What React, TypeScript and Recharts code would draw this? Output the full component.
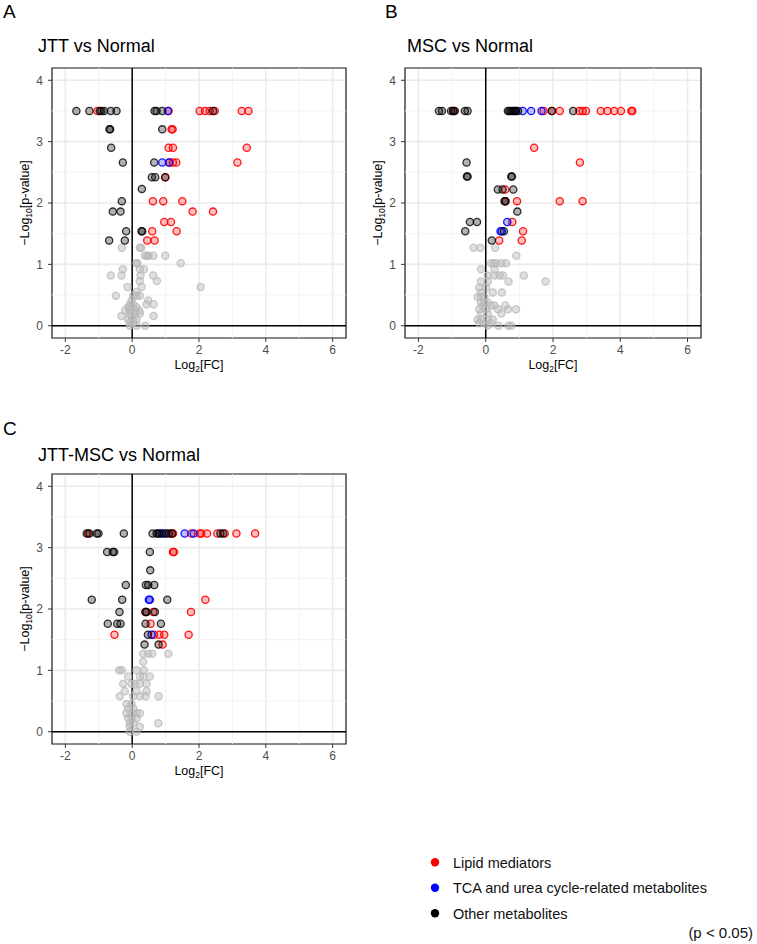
import React from "react";
import {
  CartesianGrid,
  ReferenceArea,
  ReferenceLine,
  Scatter,
  ScatterChart,
  XAxis,
  YAxis,
} from "recharts";

type Pt = { x: number; y: number };
const P = (x: number, y: number): Pt => ({ x, y });

// axis setup
const X_DOMAIN = [-2.4, 6.4];
const Y_DOMAIN = [-0.2, 4.2];
const X_TICKS = [-2, 0, 2, 4, 6];
const Y_TICKS = [0, 1, 2, 3, 4];
const X_MINOR = [-1, 1, 3, 5];
const Y_MINOR = [0.5, 1.5, 2.5, 3.5];

// A: JTT vs Normal
const jttLipid = [
  P(-1.04, 3.5), P(1.09, 3.5), P(2.02, 3.5), P(2.18, 3.5), P(2.32, 3.5), P(2.47, 3.5), P(3.28, 3.5), P(3.48, 3.5),
  P(1.18, 3.2), P(1.21, 3.2),
  P(1.09, 2.9), P(1.22, 2.9), P(3.43, 2.9),
  P(1.12, 2.66), P(1.22, 2.66), P(1.32, 2.66), P(3.15, 2.66),
  P(0.99, 2.42),
  P(0.62, 2.03), P(0.93, 2.03), P(1.5, 2.03),
  P(1.81, 1.86), P(2.42, 1.86),
  P(0.96, 1.69), P(1.16, 1.69),
  P(0.6, 1.54), P(1.33, 1.54),
  P(0.45, 1.39), P(0.67, 1.39),
];
const jttTca = [P(1.07, 3.5), P(0.9, 2.66), P(1.1, 2.66)];
const jttOther = [
  P(-1.67, 3.5), P(-1.28, 3.5), P(-0.97, 3.5), P(-0.92, 3.5), P(-0.84, 3.5), P(-0.64, 3.5), P(-0.47, 3.5),
  P(0.67, 3.5), P(0.73, 3.5), P(0.9, 3.5), P(2.42, 3.5),
  P(-0.68, 3.2), P(-0.66, 3.2), P(0.9, 3.2),
  P(-0.63, 2.9),
  P(-0.28, 2.66), P(0.66, 2.66),
  P(0.59, 2.42), P(0.69, 2.42), P(0.99, 2.42),
  P(0.29, 2.23),
  P(-0.31, 2.03),
  P(-0.58, 1.86), P(-0.35, 1.86),
  P(-0.18, 1.54), P(0.28, 1.54), P(0.3, 1.54),
  P(-0.69, 1.39), P(-0.22, 1.39),
];
const jttNs = [
  P(-0.31, 1.27), P(0.23, 1.27), P(0.27, 1.27),
  P(0.38, 1.14), P(0.45, 1.14), P(0.49, 1.14), P(0.63, 1.14), P(0.99, 1.14),
  P(0.13, 1.02), P(0.15, 1.02), P(1.45, 1.02),
  P(-0.28, 0.92), P(0.23, 0.92), P(0.35, 0.92),
  P(-0.64, 0.82), P(-0.32, 0.82), P(0.25, 0.82), P(0.63, 0.82),
  P(0.23, 0.73), P(0.74, 0.73),
  P(-0.14, 0.63), P(0.28, 0.63), P(2.05, 0.63),
  P(0.13, 0.55),
  P(-0.49, 0.49), P(0.03, 0.49), P(0.13, 0.49), P(0.23, 0.49),
  P(-0.02, 0.41), P(0.48, 0.41),
  P(-0.07, 0.35), P(0.03, 0.35), P(0.43, 0.35), P(0.64, 0.35),
  P(-0.12, 0.3), P(-0.02, 0.3), P(0.13, 0.3),
  P(-0.21, 0.25), P(-0.07, 0.25), P(0.08, 0.25), P(0.21, 0.25),
  P(-0.07, 0.2), P(0.08, 0.2), P(0.23, 0.2),
  P(-0.32, 0.16), P(-0.02, 0.16), P(0.64, 0.16),
  P(-0.12, 0.1), P(0.03, 0.1), P(0.13, 0.1),
  P(-0.07, 0.05), P(0.03, 0.05),
  P(-0.07, 0.0), P(0.13, 0.0), P(0.39, 0.0),
];

// B: MSC vs Normal
const mscLipid = [
  P(-0.95, 3.5), P(1.72, 3.5), P(1.96, 3.5), P(2.2, 3.5), P(2.78, 3.5), P(2.88, 3.5), P(2.98, 3.5),
  P(3.42, 3.5), P(3.62, 3.5), P(3.82, 3.5), P(4.02, 3.5), P(4.33, 3.5), P(4.36, 3.5),
  P(1.44, 2.9), P(2.8, 2.66), P(0.58, 2.22),
  P(0.58, 2.03), P(0.93, 2.03), P(2.2, 2.03), P(2.88, 2.03),
  P(0.79, 1.69), P(1.11, 1.54), P(0.4, 1.39), P(1.07, 1.39),
];
const mscTca = [P(0.86, 3.5), P(1.1, 3.5), P(1.35, 3.5), P(1.66, 3.5), P(0.64, 1.69), P(0.44, 1.54), P(0.48, 1.54)];
const mscOther = [
  P(-1.39, 3.5), P(-1.3, 3.5), P(-1.03, 3.5), P(-0.97, 3.5), P(-0.92, 3.5), P(-0.62, 3.5), P(-0.54, 3.5),
  P(0.66, 3.5), P(0.7, 3.5), P(0.75, 3.5), P(0.8, 3.5), P(0.85, 3.5), P(0.9, 3.5), P(0.96, 3.5), P(1.97, 3.5), P(2.6, 3.5),
  P(-0.57, 2.66),
  P(-0.56, 2.43), P(-0.54, 2.43), P(0.76, 2.43), P(0.78, 2.43),
  P(0.36, 2.22), P(0.5, 2.22), P(0.82, 2.22),
  P(0.56, 2.03), P(0.59, 2.03),
  P(0.94, 1.86),
  P(-0.47, 1.69), P(-0.26, 1.69),
  P(-0.61, 1.54), P(0.54, 1.54),
  P(0.18, 1.39),
];
const mscNs = [
  P(-0.36, 1.27), P(-0.16, 1.27), P(0.28, 1.27),
  P(0.91, 1.14),
  P(0.16, 1.02), P(0.24, 1.02), P(0.31, 1.02), P(0.46, 1.02), P(0.6, 1.02),
  P(-0.14, 0.92), P(0.26, 0.92),
  P(0.06, 0.82), P(0.26, 0.82), P(0.41, 0.82), P(0.51, 0.82), P(1.13, 0.82),
  P(-0.14, 0.72), P(0.06, 0.72), P(0.68, 0.72), P(1.78, 0.72),
  P(-0.19, 0.62), P(0.01, 0.62),
  P(-0.14, 0.54), P(0.21, 0.54), P(0.48, 0.54),
  P(-0.24, 0.47), P(-0.14, 0.47), P(-0.04, 0.47),
  P(-0.14, 0.38), P(-0.04, 0.38), P(0.06, 0.38),
  P(-0.09, 0.33), P(0.16, 0.33), P(0.26, 0.33), P(0.58, 0.33),
  P(-0.19, 0.27), P(0.01, 0.27), P(0.36, 0.27), P(0.66, 0.27), P(0.9, 0.27),
  P(-0.14, 0.2), P(0.06, 0.2), P(0.46, 0.2),
  P(-0.24, 0.1), P(-0.14, 0.1), P(0.06, 0.1), P(0.21, 0.1),
  P(-0.19, 0.04), P(-0.04, 0.04), P(0.16, 0.04),
  P(0.06, 0.0), P(0.38, 0.0), P(0.68, 0.0), P(0.76, 0.0),
];

// C: JTT-MSC vs Normal
const comboLipid = [
  P(-1.32, 3.23), P(1.17, 3.23), P(1.22, 3.23), P(1.77, 3.23), P(2.02, 3.23), P(2.07, 3.23), P(2.24, 3.23),
  P(2.55, 3.23), P(2.77, 3.23), P(3.12, 3.23), P(3.68, 3.23),
  P(1.22, 2.93), P(1.25, 2.93),
  P(2.19, 2.15),
  P(0.4, 1.95), P(0.63, 1.95), P(1.76, 1.95),
  P(0.55, 1.76),
  P(-0.53, 1.58), P(0.65, 1.58), P(0.81, 1.58), P(0.96, 1.58), P(1.69, 1.58),
  P(0.91, 1.42),
];
const comboTca = [P(0.82, 3.23), P(0.95, 3.23), P(1.57, 3.23), P(1.84, 3.23), P(0.5, 2.15), P(0.53, 2.15), P(0.58, 1.58)];
const comboOther = [
  P(-1.36, 3.23), P(-1.28, 3.23), P(-1.06, 3.23), P(-1.01, 3.23), P(-0.25, 3.23),
  P(0.61, 3.23), P(0.73, 3.23), P(0.78, 3.23), P(0.88, 3.23), P(1.02, 3.23), P(1.1, 3.23), P(1.2, 3.23), P(2.64, 3.23), P(2.72, 3.23),
  P(-0.75, 2.93), P(-0.58, 2.93), P(-0.54, 2.93), P(0.53, 2.93),
  P(0.54, 2.63),
  P(-0.19, 2.39), P(0.41, 2.39), P(0.48, 2.39), P(0.66, 2.39),
  P(-1.21, 2.15), P(-0.3, 2.15), P(1.05, 2.15),
  P(-0.38, 1.95), P(0.4, 1.95), P(0.43, 1.95), P(0.68, 1.95),
  P(-0.73, 1.76), P(-0.45, 1.76), P(-0.35, 1.76), P(0.4, 1.76), P(0.86, 1.76),
  P(0.47, 1.58),
  P(0.37, 1.42), P(0.79, 1.42),
];
const comboNs = [
  P(0.33, 1.27), P(0.48, 1.27), P(0.6, 1.27), P(1.08, 1.27),
  P(0.33, 1.14),
  P(-0.39, 1.0), P(-0.31, 1.0), P(0.13, 1.0), P(0.35, 1.0),
  P(-0.12, 0.9), P(0.23, 0.9), P(0.33, 0.9), P(0.53, 0.9),
  P(-0.27, 0.78), P(-0.02, 0.78), P(0.08, 0.78), P(0.23, 0.78), P(0.43, 0.78),
  P(-0.22, 0.66), P(0.13, 0.66), P(0.43, 0.66),
  P(-0.37, 0.58), P(0.03, 0.58), P(0.23, 0.58), P(0.4, 0.58), P(0.79, 0.58),
  P(-0.17, 0.45), P(-0.02, 0.45),
  P(-0.12, 0.38), P(0.03, 0.38),
  P(-0.17, 0.3), P(-0.02, 0.3), P(0.13, 0.3), P(0.23, 0.3),
  P(-0.12, 0.22), P(-0.02, 0.22), P(0.13, 0.22),
  P(-0.07, 0.14), P(0.03, 0.14), P(0.78, 0.14),
  P(-0.07, 0.08), P(0.23, 0.08),
  P(-0.07, 0.0), P(0.13, 0.0),
];

const LEGEND = [
  { name: "Lipid mediators", color: "#ff0000" },
  { name: "TCA and urea cycle-related metabolites", color: "#0000ff" },
  { name: "Other metabolites", color: "#000000" },
];

const FONT = "'Liberation Sans', Arial, Helvetica, sans-serif";

const dot = (color: string, fillOp: number, strokeOp: number) => (p: any) => (
  <circle
    cx={p.cx}
    cy={p.cy}
    r={3.6}
    fill={color}
    fillOpacity={fillOp}
    stroke={color}
    strokeOpacity={strokeOp}
    strokeWidth={1.3}
  />
);

interface PanelProps {
  left: number;
  top: number;
  width: number;
  lipid: Pt[];
  tca: Pt[];
  other: Pt[];
  ns: Pt[];
}

function Panel({ left, top, width, lipid, tca, other, ns }: PanelProps) {
  const tick = { fill: "#4d4d4d", fontSize: 12, fontFamily: FONT };
  return (
    <div style={{ position: "absolute", left, top }}>
      <ScatterChart width={width} height={320} margin={{ top: 8, right: 14, bottom: 12, left: 22 }}>
        <CartesianGrid stroke="#ebebeb" strokeWidth={1.6} />
        {X_MINOR.map((v) => (
          <ReferenceLine key={"mx" + v} x={v} stroke="#f2f2f2" strokeWidth={0.9} />
        ))}
        {Y_MINOR.map((v) => (
          <ReferenceLine key={"my" + v} y={v} stroke="#f2f2f2" strokeWidth={0.9} />
        ))}
        <XAxis
          type="number"
          dataKey="x"
          domain={X_DOMAIN}
          ticks={X_TICKS}
          allowDataOverflow
          axisLine={false}
          tickSize={4}
          tickMargin={3}
          tickLine={{ stroke: "#333" }}
          tick={tick}
          height={30}
        />
        <YAxis
          type="number"
          dataKey="y"
          domain={Y_DOMAIN}
          ticks={Y_TICKS}
          allowDataOverflow
          axisLine={false}
          tickSize={4}
          tickMargin={5}
          tickLine={{ stroke: "#333" }}
          tick={tick}
          width={30}
        />
        <ReferenceLine x={0} stroke="#000" strokeWidth={1.5} />
        <ReferenceLine y={0} stroke="#000" strokeWidth={1.5} />
        <ReferenceArea
          x1={X_DOMAIN[0]}
          x2={X_DOMAIN[1]}
          y1={Y_DOMAIN[0]}
          y2={Y_DOMAIN[1]}
          fill="none"
          fillOpacity={0}
          stroke="#222"
          strokeWidth={1.2}
        />
        <Scatter data={ns} isAnimationActive={false} shape={dot("#b8b8b8", 0.45, 0.75)} />
        <Scatter data={lipid} isAnimationActive={false} shape={dot("#ff0000", 0.25, 0.9)} />
        <Scatter data={tca} isAnimationActive={false} shape={dot("#0000ff", 0.25, 0.9)} />
        <Scatter data={other} isAnimationActive={false} shape={dot("#000000", 0.3, 0.8)} />
      </ScatterChart>
    </div>
  );
}

function XTitle({ cx, y }: { cx: number; y: number }) {
  return (
    <text x={cx} y={y} textAnchor="middle" fontSize={12.5} fill="#000">
      Log<tspan fontSize={8.5} dy={3}>2</tspan>
      <tspan dy={-3}>[FC]</tspan>
    </text>
  );
}

function YTitle({ x, cy }: { x: number; cy: number }) {
  return (
    <text x={x} y={cy} transform={`rotate(-90 ${x} ${cy})`} textAnchor="middle" fontSize={12.5} fill="#000">
      −Log<tspan fontSize={8.5} dy={3}>10</tspan>
      <tspan dy={-3}>[p-value]</tspan>
    </text>
  );
}

export default function App() {
  return (
    <div style={{ position: "absolute", left: 0, top: 0, width: 757, height: 944, background: "#fff", fontFamily: FONT }}>
      <Panel left={0} top={60} width={360} lipid={jttLipid} tca={jttTca} other={jttOther} ns={jttNs} />
      <Panel left={353} top={60} width={362} lipid={mscLipid} tca={mscTca} other={mscOther} ns={mscNs} />
      <Panel left={0} top={466} width={360} lipid={comboLipid} tca={comboTca} other={comboOther} ns={comboNs} />
      <svg
        width={757}
        height={944}
        style={{ position: "absolute", left: 0, top: 0, pointerEvents: "none" }}
        fontFamily={FONT}
      >
        <text x={3} y={18} fontSize={19} fill="#000">A</text>
        <text x={38} y={52} fontSize={18} fill="#000">JTT vs Normal</text>
        <XTitle cx={199} y={369} />
        <YTitle x={29} cy={203} />

        <text x={385} y={18} fontSize={19} fill="#000">B</text>
        <text x={407} y={52} fontSize={18} fill="#000">MSC vs Normal</text>
        <XTitle cx={553} y={369} />
        <YTitle x={382} cy={203} />

        <text x={3} y={435} fontSize={19} fill="#000">C</text>
        <text x={38} y={461} fontSize={18} fill="#000">JTT-MSC vs Normal</text>
        <XTitle cx={199} y={775} />
        <YTitle x={29} cy={609} />

        {LEGEND.map((l, i) => (
          <g key={l.name}>
            <circle cx={435} cy={862.3 + i * 25.5} r={4.2} fill={l.color} />
            <text x={453} y={867.5 + i * 25.5} fontSize={14.5} fill="#111">
              {l.name}
            </text>
          </g>
        ))}
        <text x={753} y={938} textAnchor="end" fontSize={15} fill="#111">
          (p &lt; 0.05)
        </text>
      </svg>
    </div>
  );
}
